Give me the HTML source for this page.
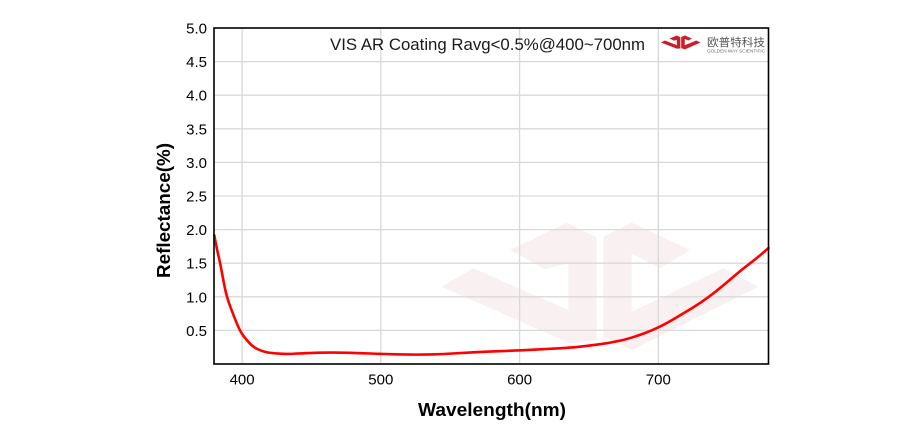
<!DOCTYPE html>
<html>
<head>
<meta charset="utf-8">
<style>
  html, body { margin:0; padding:0; background:#ffffff; }
  svg { display:block; }
</style>
</head>
<body>
<svg width="924" height="440" viewBox="0 0 924 440" xmlns="http://www.w3.org/2000/svg">
  <rect x="0" y="0" width="924" height="440" fill="#ffffff"/>

  <!-- watermark -->
  <g fill="#f9f1f1">
    <polygon points="441.7,286.7 473.3,268.3 568.3,310 568.3,263.3 545,269.3 510,250 566.7,222.7 596.7,237.3 596.7,340 570,343.3"/>
    <polygon points="603.3,236.7 631.7,222.7 690,250 660,268.3 631.7,253.3 631.7,311.7 723.3,268.3 758.3,286.7 631.7,350 603.3,336.7"/>
  </g>

  <!-- gridlines -->
  <g stroke="#d9d9d9" stroke-width="1.3">
    <line x1="214" y1="330.4" x2="768" y2="330.4"/>
    <line x1="214" y1="296.8" x2="768" y2="296.8"/>
    <line x1="214" y1="263.2" x2="768" y2="263.2"/>
    <line x1="214" y1="229.6" x2="768" y2="229.6"/>
    <line x1="214" y1="196" x2="768" y2="196"/>
    <line x1="214" y1="162.4" x2="768" y2="162.4"/>
    <line x1="214" y1="128.8" x2="768" y2="128.8"/>
    <line x1="214" y1="95.2" x2="768" y2="95.2"/>
    <line x1="214" y1="61.6" x2="768" y2="61.6"/>
    <line x1="242.1" y1="28" x2="242.1" y2="364"/>
    <line x1="380.8" y1="28" x2="380.8" y2="364"/>
    <line x1="519.6" y1="28" x2="519.6" y2="364"/>
    <line x1="658.3" y1="28" x2="658.3" y2="364"/>
  </g>

  <!-- curve -->
  <path fill="none" stroke="#ff0000" stroke-width="2.6" stroke-linejoin="round" stroke-linecap="round"
    d="M214.3,235.3 L215.7,242.7
       Q217.1,250.1 218.7,256.85
       Q220.3,263.6 221.8,272.0
       Q223.3,280.4 225.05,288.8
       Q226.8,297.2 230.25,306.6
       Q233.7,316.0 236.95,323.75
       Q240.2,331.5 243.2,335.55
       Q246.2,339.6 249.7,343.3
       Q253.2,347.0 257.35,349.0
       Q261.5,351.0 265.65,352.05
       Q269.8,353.1 278.15,353.6
       Q286.5,354.1 293.4,353.75
       Q300.3,353.4 309.35,353.05
       Q318.4,352.7 328.8,352.6
       Q339.2,352.5 349.6,352.8
       Q360.0,353.1 370.4,353.5
       Q380.8,353.9 391.2,354.2
       Q401.6,354.5 410.65,354.6
       Q419.7,354.7 431.45,354.4
       Q443.2,354.1 456.4,353.25
       Q469.6,352.4 480.7,351.9
       Q491.8,351.4 505.7,350.9
       Q519.6,350.4 533.45,349.7
       Q547.3,349.0 559.1,348.35
       Q570.9,347.7 579.9,346.7
       Q588.9,345.7 599.3,344.35
       Q609.7,343.0 620.15,340.65
       Q630.6,338.3 644.45,333.25
       Q658.3,328.2 670.8,320.8
       Q683.3,313.4 691.65,308.35
       Q700.0,303.3 708.3,297.2
       Q716.6,291.1 724.9,284.05
       Q733.2,277.0 738.75,272.3
       Q744.3,267.6 750.55,262.9
       Q756.8,258.2 762.65,253.1
       L768.5,248.0"/>

  <!-- plot border -->
  <rect x="214" y="28" width="554.5" height="336" fill="none" stroke="#000000" stroke-width="1.6"/>

  <!-- y tick labels -->
  <g font-family="Liberation Sans, Arial, sans-serif" font-size="15" fill="#000" text-anchor="end">
    <text x="207" y="33.5">5.0</text>
    <text x="207" y="67.1">4.5</text>
    <text x="207" y="100.7">4.0</text>
    <text x="207" y="134.3">3.5</text>
    <text x="207" y="167.9">3.0</text>
    <text x="207" y="201.5">2.5</text>
    <text x="207" y="235.1">2.0</text>
    <text x="207" y="268.7">1.5</text>
    <text x="207" y="302.3">1.0</text>
    <text x="207" y="335.9">0.5</text>
  </g>

  <!-- x tick labels -->
  <g font-family="Liberation Sans, Arial, sans-serif" font-size="15" fill="#000" text-anchor="middle">
    <text x="242.1" y="384.5">400</text>
    <text x="380.8" y="384.5">500</text>
    <text x="519.6" y="384.5">600</text>
    <text x="658.3" y="384.5">700</text>
  </g>

  <!-- axis titles -->
  <text x="418" y="416" font-family="Liberation Sans, Arial, sans-serif" font-size="18" font-weight="bold" fill="#000" textLength="148" lengthAdjust="spacingAndGlyphs">Wavelength(nm)</text>
  <text transform="translate(170,278) rotate(-90)" x="0" y="0" font-family="Liberation Sans, Arial, sans-serif" font-size="18" font-weight="bold" fill="#000" textLength="135" lengthAdjust="spacingAndGlyphs">Reflectance(%)</text>

  <!-- title -->
  <text x="330" y="50" font-family="Liberation Sans, Arial, sans-serif" font-size="17" fill="#1a1a1a" textLength="315" lengthAdjust="spacingAndGlyphs">VIS AR Coating Ravg&lt;0.5%@400~700nm</text>

  <!-- logo -->
  <g transform="translate(661,35.5) scale(0.125,0.11) translate(-441.7,-222.7)" fill="#c8202a">
    <polygon points="441.7,286.7 473.3,268.3 568.3,310 568.3,263.3 545,269.3 510,250 566.7,222.7 596.7,237.3 596.7,340 570,343.3"/>
    <polygon points="603.3,236.7 631.7,222.7 690,250 660,268.3 631.7,253.3 631.7,311.7 723.3,268.3 758.3,286.7 631.7,350 603.3,336.7"/>
  </g>
  <text x="707" y="46" font-family="Liberation Sans, 'Noto Sans CJK SC', sans-serif" font-size="11" fill="#555" textLength="58" lengthAdjust="spacingAndGlyphs">欧普特科技</text>
  <text x="707" y="52.5" font-family="Liberation Sans, Arial, sans-serif" font-size="4.5" fill="#666" textLength="58" lengthAdjust="spacingAndGlyphs">GOLDEN WAY SCIENTIFIC</text>
</svg>
</body>
</html>
